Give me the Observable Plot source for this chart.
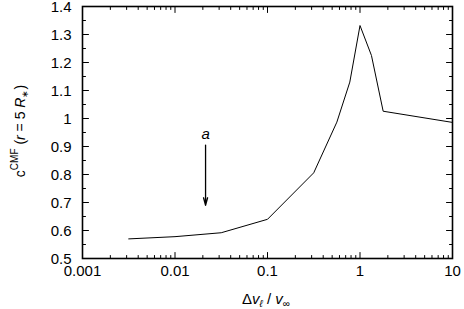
<!DOCTYPE html>
<html><head><meta charset="utf-8">
<script src="https://cdn.jsdelivr.net/npm/d3@7"></script>
<script src="https://cdn.jsdelivr.net/npm/@observablehq/plot@0.6"></script>
<style>body{margin:0;background:#fff} svg{display:block;background:#fff}</style>
</head><body><div id="chart"></div>
<script>
// Data
const dvOverVinf = [0.00316, 0.01, 0.0316, 0.1, 0.316, 0.562, 0.776, 1.0, 1.33, 1.78, 10];
const cCMF       = [0.570, 0.578, 0.592, 0.640, 0.806, 0.987, 1.13, 1.332, 1.225, 1.026, 0.986];

const xTicks = [0.001, 0.01, 0.1, 1, 10];
const yTicks = [0.5, 0.6, 0.7, 0.8, 0.9, 1.0, 1.1, 1.2, 1.3, 1.4];
const xMinorTicks = [0.001, 0.01, 0.1, 1].flatMap(d => [2,3,4,5,6,7,8,9].map(k => k * d));
const yMinorTicks = [0.55, 0.65, 0.75, 0.85, 0.95, 1.05, 1.15, 1.25, 1.35];

const annotationLabel = ["a"];
const annotationX = [0.0214];
const annotationTextY = [0.943];
const annotationStartY = [0.905];
const annotationEndY = [0.69];

const data = dvOverVinf.map((x, i) => ({x, y: cCMF[i]}));
const ann = annotationLabel.map((label, i) => ({label, x: annotationX[i], yt: annotationTextY[i], y1: annotationStartY[i], y2: annotationEndY[i]}));

const tickShape = {draw(c, l) { c.moveTo(0, 0); c.lineTo(0, -l); }};
const ticks = (values, anchor, rotate, length, isX) => Plot.vector(values, {
  [isX ? "x" : "y"]: d => d, frameAnchor: anchor, rotate, length, anchor: "start",
  shape: tickShape, strokeWidth: 1, stroke: "black"
});

const plot = Plot.plot({
  width: 464, height: 309,
  marginLeft: 82, marginRight: 12, marginTop: 6, marginBottom: 51,
  style: {fontFamily: "'Liberation Sans', Arial, Helvetica, sans-serif", fontSize: "15px", color: "black", background: "white", overflow: "visible"},
  x: {type: "log", domain: [0.001, 10]},
  y: {domain: [0.5, 1.4]},
  marks: [
    Plot.axisX(xTicks, {tickSize: 0, tickPadding: 7, tickFormat: d3.format("~g"), label: null}),
    Plot.axisY(yTicks, {tickSize: 0, tickPadding: 11, tickFormat: d3.format("~g"), label: null, dy: 0.5}),
    ticks(xTicks, "bottom", 0, 6, true),
    ticks(xMinorTicks, "bottom", 0, 3, true),
    ticks(xTicks, "top", 180, 6, true),
    ticks(xMinorTicks, "top", 180, 3, true),
    ticks(yTicks, "left", 90, 6, false),
    ticks(yMinorTicks, "left", 90, 3, false),
    ticks(yTicks, "right", -90, 6, false),
    ticks(yMinorTicks, "right", -90, 3, false),
    Plot.line(data, {x: "x", y: "y", stroke: "black", strokeWidth: 1}),
    Plot.arrow(ann, {x1: "x", y1: "y1", x2: "x", y2: "y2", stroke: "black", strokeWidth: 1.3, headLength: 9, headAngle: 30}),
    Plot.text(ann, {x: "x", y: "yt", text: "label", fontStyle: "italic", fontSize: 15}),
    Plot.frame({stroke: "black", strokeWidth: 1.6})
  ]
});

const svg = d3.select(plot);
const font = "'Liberation Sans', Arial, Helvetica, sans-serif";
// y-axis label
const yl = svg.append("text")
  .attr("transform", "translate(25,131) rotate(-90)")
  .attr("text-anchor", "middle").attr("font-family", font).attr("font-size", 14).attr("fill", "black");
yl.append("tspan").text("c");
yl.append("tspan").attr("font-size", 10).attr("dy", -7).text("CMF");
yl.append("tspan").attr("dy", 7).text(" (");
yl.append("tspan").attr("font-style", "italic").text("r");
yl.append("tspan").text(" = 5 ");
yl.append("tspan").attr("font-style", "italic").text("R");
yl.append("tspan").attr("font-size", 9).attr("dy", 3).text("∗");
yl.append("tspan").attr("dy", -3).text(")");

// x-axis label
const xl = svg.append("text")
  .attr("x", 266).attr("y", 304)
  .attr("text-anchor", "middle").attr("font-family", font).attr("font-size", 15).attr("fill", "black");
xl.append("tspan").text("Δ");
xl.append("tspan").attr("font-style", "italic").text("v");
xl.append("tspan").attr("font-style", "italic").attr("font-size", 10).attr("dy", 3).text("ℓ");
xl.append("tspan").attr("dy", -3).text(" / ");
xl.append("tspan").attr("font-style", "italic").text("v");
xl.append("tspan").attr("font-size", 10).attr("dy", 3).text("∞");

document.getElementById("chart").appendChild(plot);
</script>
</body></html>
